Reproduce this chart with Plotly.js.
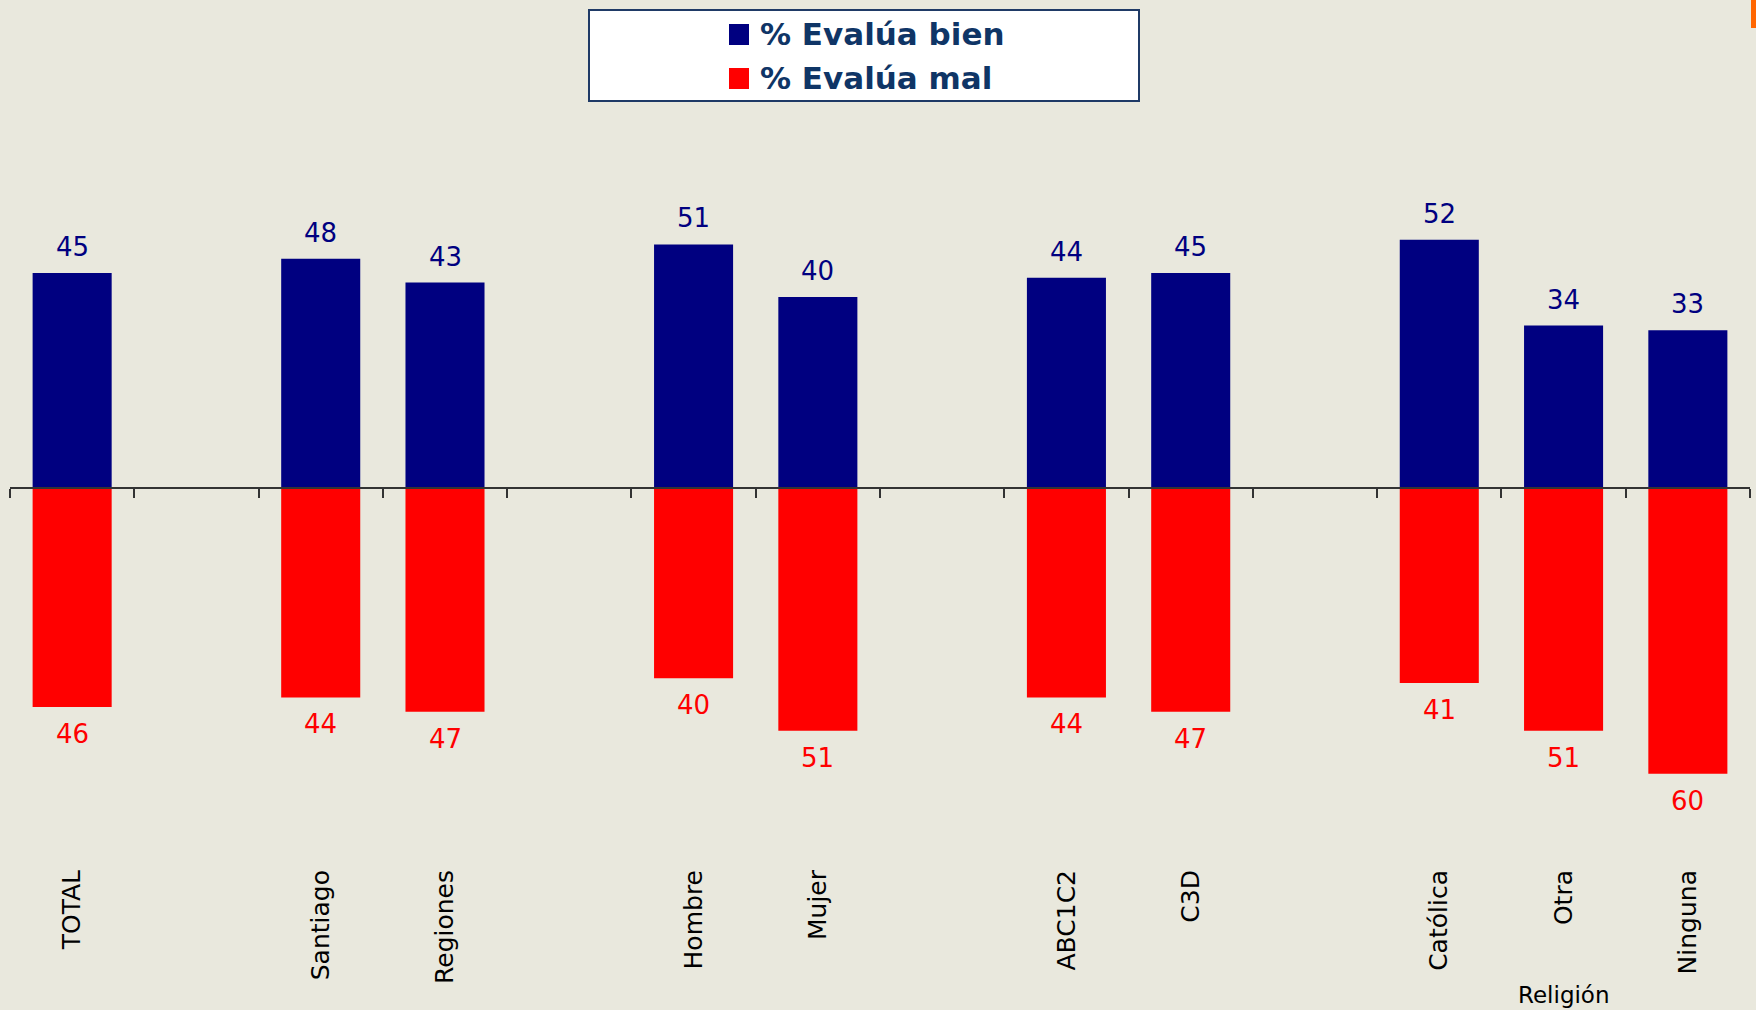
<!DOCTYPE html>
<html>
<head>
<meta charset="utf-8">
<script src="https://cdn.plot.ly/plotly-3.0.1.min.js"></script>
<style>html,body{margin:0;padding:0;background:#E9E8DD;}</style>
</head>
<body>
<div id="chart" style="width:1756px;height:1010px;"></div>
<script>
// ---- data ----
const categories = ['TOTAL', ' ', 'Santiago', 'Regiones', '  ', 'Hombre', 'Mujer', '   ', 'ABC1C2', 'C3D', '    ', 'Católica', 'Otra', 'Ninguna'];
const evaluaBien = [45, null, 48, 43, null, 51, 40, null, 44, 45, null, 52, 34, 33];
const evaluaMal  = [46, null, 44, 47, null, 40, 51, null, 44, 47, null, 41, 51, 60];
const seriesNames = ['% Evalúa bien', '% Evalúa mal'];
const groupLabel = 'Religión';
const groupLabelAt = 'Otra';

// ---- styles ----
const W = 1756, H = 1010;
const M = {l: 10, r: 6, t: 100, b: 150};
const plotW = W - M.l - M.r, plotH = H - M.t - M.b;
const yRange = [-78.1, 81.3];
const zeroFrac = (0 - yRange[0]) / (yRange[1] - yRange[0]);
const BLUE = '#000080', RED = '#FF0000', BG = '#E9E8DD';
const FONT = 'DejaVu Sans, Verdana, sans-serif';
const px2x = p => (p - M.l) / plotW;
const px2y = p => (H - M.b - p) / plotH;

const traces = [
  {type: 'bar', name: seriesNames[0], x: categories, y: evaluaBien,
   marker: {color: BLUE}, width: 0.636, xaxis: 'x', yaxis: 'y', hoverinfo: 'x+y'},
  {type: 'bar', name: seriesNames[1], x: categories, y: evaluaMal.map(v => v == null ? null : -v),
   marker: {color: RED}, width: 0.636, xaxis: 'x2', yaxis: 'y', hoverinfo: 'x+y'}
];

const annotations = [];
categories.forEach((c, i) => {
  if (evaluaBien[i] != null) annotations.push({
    x: c, y: evaluaBien[i], xref: 'x', yref: 'y', text: String(evaluaBien[i]),
    showarrow: false, yanchor: 'bottom', yshift: 9,
    font: {family: FONT, size: 26, color: BLUE}
  });
  if (evaluaMal[i] != null) annotations.push({
    x: c, y: -evaluaMal[i], xref: 'x', yref: 'y', text: String(evaluaMal[i]),
    showarrow: false, yanchor: 'top', yshift: -10,
    font: {family: FONT, size: 26, color: RED}
  });
});
annotations.push({
  x: groupLabelAt, xref: 'x', y: px2y(995), yref: 'paper', text: groupLabel,
  showarrow: false, yanchor: 'middle', font: {family: FONT, size: 23, color: '#000'}
});
// custom legend text
const legTextX = px2x(758);
annotations.push({x: legTextX, xref: 'paper', xanchor: 'left', y: px2y(34), yref: 'paper', yanchor: 'middle',
  text: '<b>' + seriesNames[0] + '</b>', showarrow: false, font: {family: FONT, size: 31, color: '#0F3566'}});
annotations.push({x: legTextX, xref: 'paper', xanchor: 'left', y: px2y(78), yref: 'paper', yanchor: 'middle',
  text: '<b>' + seriesNames[1] + '</b>', showarrow: false, font: {family: FONT, size: 31, color: '#0F3566'}});

const shapes = [
  {type: 'rect', xref: 'paper', yref: 'paper', x0: px2x(589), x1: px2x(1139), y0: px2y(10), y1: px2y(101),
   fillcolor: '#FFFFFF', line: {color: '#1F3A66', width: 2}, layer: 'below'},
  {type: 'rect', xref: 'paper', yref: 'paper', x0: px2x(729), x1: px2x(749), y0: px2y(24), y1: px2y(45),
   fillcolor: BLUE, line: {width: 0}},
  {type: 'rect', xref: 'paper', yref: 'paper', x0: px2x(729), x1: px2x(749), y0: px2y(68), y1: px2y(89),
   fillcolor: RED, line: {width: 0}},
  {type: 'rect', xref: 'paper', yref: 'paper', x0: px2x(1751), x1: px2x(1757), y0: px2y(0), y1: px2y(28),
   fillcolor: '#FF6600', line: {width: 0}}
];

const layout = {
  width: W, height: H,
  margin: M,
  paper_bgcolor: BG, plot_bgcolor: BG,
  showlegend: false,
  barmode: 'relative',
  xaxis: {type: 'category', categoryorder: 'array', categoryarray: categories,
    range: [-0.5, categories.length - 0.5], showline: false, showgrid: false, zeroline: false,
    ticks: '', tickangle: -90, ticklabelstandoff: 4,
    tickfont: {family: FONT, size: 25, color: '#000'}, fixedrange: true},
  xaxis2: {type: 'category', categoryorder: 'array', categoryarray: categories,
    range: [-0.5, categories.length - 0.5], overlaying: 'x', anchor: 'free', position: zeroFrac,
    showline: true, linecolor: '#333333', linewidth: 2, showgrid: false, zeroline: false,
    ticks: 'outside', tickson: 'boundaries', ticklen: 9, tickwidth: 2, tickcolor: '#333333',
    showticklabels: false, fixedrange: true},
  yaxis: {range: yRange, visible: false, showgrid: false, zeroline: false, fixedrange: true},
  annotations: annotations,
  shapes: shapes
};

Plotly.newPlot('chart', traces, layout, {displayModeBar: false, staticPlot: true});
</script>
</body>
</html>
